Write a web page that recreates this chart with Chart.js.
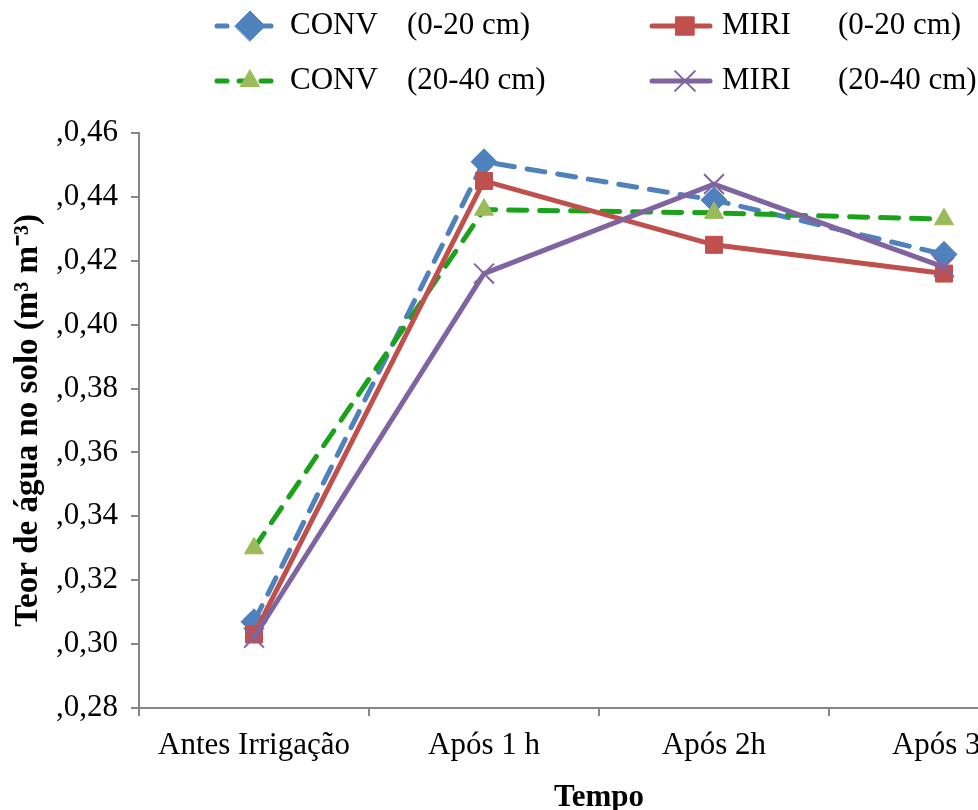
<!DOCTYPE html>
<html>
<head>
<meta charset="utf-8">
<script src="https://cdn.jsdelivr.net/npm/chart.js@4/dist/chart.umd.min.js"></script>
<style>
  html, body { margin: 0; padding: 0; background: #fff; overflow: hidden; }
  #wrap { width: 1075px; height: 810px; }
</style>
</head>
<body>
<div id="wrap"><canvas id="chart"></canvas></div>
<script>
// data
const categories = ['Antes Irrigação', 'Após 1 h', 'Após 2h', 'Após 3h'];
const yTickLabels = [',0,28', ',0,30', ',0,32', ',0,34', ',0,36', ',0,38', ',0,40', ',0,42', ',0,44', ',0,46'];
const seriesNames = ['CONV (0-20 cm)', 'MIRI (0-20 cm)', 'CONV (20-40 cm)', 'MIRI (20-40 cm)'];
const conv020 = [0.307, 0.451, 0.439, 0.422];
const miri020 = [0.303, 0.445, 0.425, 0.416];
const conv2040 = [0.330, 0.436, 0.435, 0.433];
const miri2040 = [0.302, 0.416, 0.444, 0.418];

const serif = "'Liberation Serif', 'Times New Roman', serif";

// legend drawn by hand: two columns, two rows like the original
const legendPlugin = {
  id: 'twoColLegend',
  afterDraw(chart) {
    const ctx = chart.ctx;
    const slots = [[215, 26], [650, 26], [215, 81], [650, 81]];
    const legendRadius = [15, 13, 11, 14];
    ctx.save();
    [0, 1, 2, 3].forEach((i, k) => {
      const ds = chart.data.datasets[i];
      const [x, y] = slots[k];
      ctx.strokeStyle = ds.borderColor;
      ctx.lineWidth = 5;
      ctx.lineCap = 'round';
      ctx.setLineDash(ds.borderDash ? [10, 12] : []);
      ctx.beginPath(); ctx.moveTo(x + 2, y); ctx.lineTo(x + 60, y); ctx.stroke();
      ctx.setLineDash([]);
      ctx.fillStyle = ds.pointBackgroundColor;
      ctx.strokeStyle = ds.pointBorderColor;
      ctx.lineWidth = ds.pointBorderWidth || 1;
      Chart.helpers.drawPoint(ctx, {
        pointStyle: ds.pointStyle, radius: legendRadius[i],
        borderWidth: ds.pointBorderWidth || 1, rotation: 0
      }, x + 35, y);
      const name = seriesNames[i];
      const sp = name.indexOf(' ');
      ctx.fillStyle = '#000';
      ctx.font = '31px ' + serif;
      ctx.textBaseline = 'middle';
      ctx.textAlign = 'left';
      const tx = k % 2 === 0 ? x + 75 : x + 72;
      ctx.fillText(name.slice(0, sp), tx, y);
      ctx.fillText(name.slice(sp + 1), tx + (k % 2 === 0 ? 117 : 116), y);
    });
    ctx.restore();
  }
};

function ds(label, data, color, markerColor, style, dashed, radius, order) {
  return {
    label: label,
    data: data,
    order: order,
    borderColor: color,
    borderWidth: 5,
    borderDash: dashed ? [18, 13] : undefined,
    borderCapStyle: 'round',
    tension: 0,
    pointStyle: style,
    pointRadius: radius,
    pointHoverRadius: radius,
    pointBackgroundColor: markerColor,
    pointBorderColor: markerColor,
    pointBorderWidth: style === 'crossRot' ? 2 : 1
  };
}

new Chart(document.getElementById('chart'), {
  type: 'line',
  data: {
    labels: categories,
    datasets: [
      ds(seriesNames[0], conv020, '#4F81BD', '#4F81BD', 'rectRot', true, 13, 4),
      ds(seriesNames[1], miri020, '#C0504D', '#C0504D', 'rect', false, 12, 2),
      ds(seriesNames[2], conv2040, '#1AA31A', '#9BBB59', 'triangle', true, 11, 3),
      ds(seriesNames[3], miri2040, '#8064A2', '#8064A2', 'crossRot', false, 14, 1)
    ]
  },
  options: {
    responsive: true,
    maintainAspectRatio: false,
    animation: false,
    layout: { padding: { top: 133, right: 7, left: 0, bottom: 0 } },
    plugins: { legend: { display: false }, tooltip: { enabled: false } },
    scales: {
      x: {
        offset: true,
        afterFit(scale) { scale.height = 102; },
        border: { color: '#868686', width: 2 },
        grid: { drawOnChartArea: false, drawTicks: true, tickLength: 8, color: '#868686', lineWidth: 2, offset: true },
        ticks: { color: '#000', font: { family: serif, size: 31 }, padding: 11, maxRotation: 0, autoSkip: false },
        title: { display: true, text: 'Tempo', color: '#000', font: { family: serif, size: 31, weight: 'bold', lineHeight: 0.8 }, padding: { top: 4, bottom: 0 } }
      },
      y: {
        min: 0.28,
        max: 0.46,
        afterFit(scale) { scale.width = 139; },
        afterBuildTicks(scale) {
          scale.ticks = yTickLabels.map((t, i) => ({ value: 0.28 + i * 0.02 }));
        },
        border: { color: '#868686', width: 2 },
        grid: { drawOnChartArea: false, drawTicks: true, tickLength: 8, color: '#868686', lineWidth: 2 },
        ticks: {
          color: '#000', font: { family: serif, size: 31 }, padding: 13,
          callback: (v, i) => yTickLabels[i]
        },
        title: { display: true, text: 'Teor de água no solo (m³ m⁻³)', color: '#000', font: { family: serif, size: 33, weight: 'bold' }, padding: { top: 9, bottom: 0 } }
      }
    }
  },
  plugins: [legendPlugin]
});
</script>
</body>
</html>
